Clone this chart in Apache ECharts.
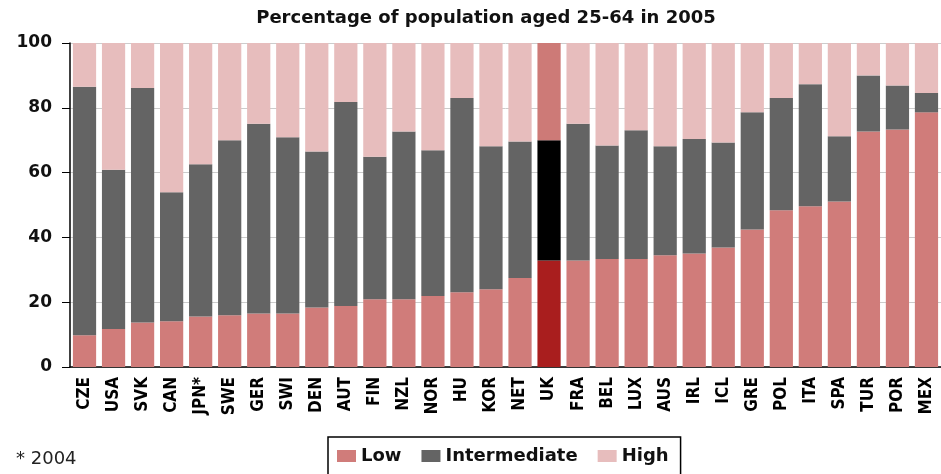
<!DOCTYPE html>
<html>
<head>
<meta charset="utf-8">
<script src="https://cdn.jsdelivr.net/npm/echarts@6/dist/echarts.min.js"></script>
<style>
html, body { margin: 0; padding: 0; background: #fff; }
#chart { width: 941px; height: 474px; }
</style>
</head>
<body>
<div id="chart"></div>
<script>
// countries, sorted by share of low attainment
var countries = ["CZE", "USA", "SVK", "CAN", "JPN*", "SWE", "GER", "SWI", "DEN", "AUT", "FIN", "NZL", "NOR", "HU", "KOR",
	"NET", "UK", "FRA", "BEL", "LUX", "AUS", "IRL", "ICL", "GRE", "POL", "ITA", "SPA", "TUR", "POR", "MEX"];
var low = [9.8, 11.7, 13.7, 14.1, 15.6, 16.0, 16.5, 16.5, 18.4, 18.8, 20.9, 20.9, 21.9, 23.1, 24.0,
	27.5, 32.9, 32.9, 33.3, 33.3, 34.5, 35.0, 36.9, 42.4, 48.4, 49.6, 51.1, 72.7, 73.3, 78.6];
var intermediate = [76.7, 49.2, 72.4, 39.8, 47.0, 54.0, 58.6, 54.4, 48.1, 63.0, 44.0, 51.8, 45.0, 59.9, 44.1,
	42.1, 37.1, 42.2, 35.1, 39.8, 33.6, 35.4, 32.4, 36.2, 34.6, 37.7, 20.1, 17.3, 13.6, 6.0];
var high = [13.5, 39.1, 13.9, 46.1, 37.4, 30.0, 24.9, 29.1, 33.5, 18.2, 35.1, 27.3, 33.1, 17.0, 31.9,
	30.4, 30.0, 24.9, 31.6, 26.9, 31.9, 29.6, 30.7, 21.4, 17.0, 12.7, 28.8, 10.0, 13.1, 15.4];
var yTicks = [0, 20, 40, 60, 80, 100];
var highlight = "UK";

var colors = { low: "#d07c7a", intermediate: "#646464", high: "#e7bdbd" };
var hlColors = { low: "#a91e1e", intermediate: "#000000", high: "#cd7a77" };

function buildData(values, key) {
	return values.map(function (v, i) {
		if (countries[i] === highlight) {
			return { value: v, itemStyle: { color: hlColors[key] } };
		}
		return v;
	});
}

var chart = echarts.init(document.getElementById("chart"));
var option = {
	animation: false,
	title: {
		text: "Percentage of population aged 25-64 in 2005",
		left: 481,
		textAlign: "center",
		top: 4,
		textStyle: { fontFamily: "DejaVu Sans", fontWeight: "bold", fontSize: 18, color: "#111" },
	},
	legend: {
		left: 328,
		top: 437,
		data: ["Low", "Intermediate", "High"],
		icon: "rect",
		itemWidth: 19,
		itemHeight: 12,
		itemGap: 20,
		padding: [10, 12, 14, 9],
		borderColor: "#000",
		borderWidth: 1.5,
		textStyle: { fontFamily: "DejaVu Sans", fontWeight: "bold", fontSize: 18, color: "#111" },
	},
	graphic: [{
		type: "text",
		left: 16,
		top: 450,
		style: { text: "* 2004", font: "18px 'DejaVu Sans'", fill: "#222" },
	}],
	grid: {
		left: 70,
		right: -12,
		top: 43,
		bottom: 107,
	},
	xAxis: {
		type: "category",
		data: countries,
		axisLine: { lineStyle: { color: "#000", width: 1.5 } },
		axisTick: { length: 7, lineStyle: { color: "#000" } },
		axisLabel: {
			interval: 0,
			rotate: 90,
			margin: 10,
			fontFamily: "DejaVu Sans Condensed",
			fontWeight: "bold",
			fontSize: 17,
			color: "#000",
		},
	},
	yAxis: {
		type: "value",
		min: yTicks[0],
		max: yTicks[yTicks.length - 1],
		interval: 20,
		axisLine: { show: true, lineStyle: { color: "#000", width: 1.5 } },
		axisTick: { show: true, length: 8, lineStyle: { color: "#000" } },
		axisLabel: {
			margin: 18,
			fontFamily: "DejaVu Sans",
			fontWeight: "bold",
			fontSize: 17,
			color: "#111",
		},
		splitLine: { lineStyle: { color: "#cccccc" } },
	},
	series: [
		{ name: "Low", type: "bar", stack: "a", barWidth: "80%", itemStyle: { color: colors.low }, data: buildData(low, "low") },
		{ name: "Intermediate", type: "bar", stack: "a", itemStyle: { color: colors.intermediate }, data: buildData(intermediate, "intermediate") },
		{ name: "High", type: "bar", stack: "a", itemStyle: { color: colors.high }, data: buildData(high, "high") },
	],
};
chart.setOption(option);
</script>
</body>
</html>
